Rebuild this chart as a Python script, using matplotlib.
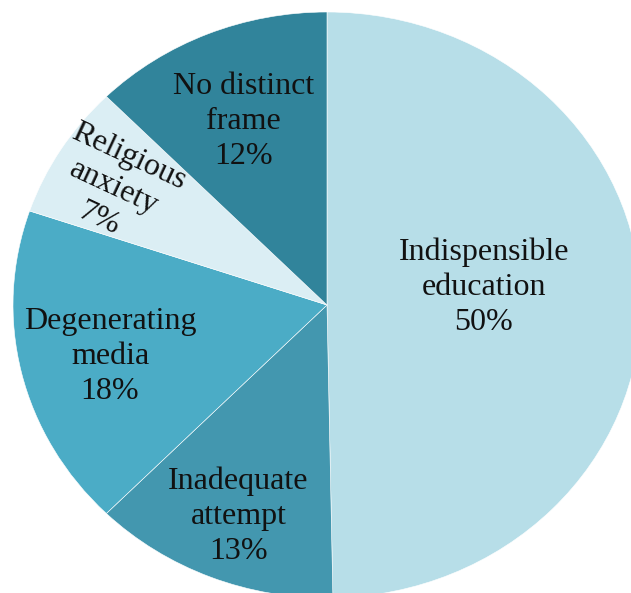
import numpy as np
import matplotlib.pyplot as plt

# Slice data, clockwise from 12 o'clock
categories = ['Indispensible\neducation', 'Inadequate\nattempt', 'Degenerating\nmedia',
              'Religious\nanxiety', 'No distinct\nframe']
shares = [49.7, 12.7, 17.8, 7.4, 12.4]
pct_labels = ['50%', '13%', '18%', '7%', '12%']

colors = ['#B7DEE8', '#4397AF', '#4BACC6', '#DBEEF4', '#31849B']
label_dist = [0.5, 0.76, 0.71, 0.80, 0.70]
label_dy = [0.055, -0.016, -0.012, -0.025, -0.02]   # small vertical nudges
label_rot = [0, 0, 0, -25, 0]

plt.rcParams['font.family'] = ['Liberation Serif', 'DejaVu Serif']

fig = plt.figure(figsize=(6.31, 5.93), dpi=100)
ax = fig.add_axes([0, 0, 1, 1])

wedges, _ = ax.pie(shares, colors=colors, startangle=90, counterclock=False,
                   radius=1, wedgeprops=dict(edgecolor='white', linewidth=0.4),
                   labels=None)

# Place labels along each wedge's middle angle
for w, cat, pct, d, dy, rot in zip(wedges, categories, pct_labels, label_dist, label_dy, label_rot):
    theta = np.deg2rad((w.theta1 + w.theta2) / 2)
    x, y = d * np.cos(theta), d * np.sin(theta) + dy
    ax.text(x, y, f'{cat}\n{pct}', ha='center', va='center', fontsize=23,
            linespacing=1.27, color='#111111', rotation=rot, rotation_mode='anchor')

# Stretched pie, cropped at right and bottom like the reference
ax.set_aspect('auto')
ax.set_xlim(-327 / 314, (631 - 327) / 314)
ax.set_ylim((305 - 593) / 293, 305 / 293)
ax.axis('off')

fig.savefig('out.png', dpi=100, facecolor='white')
